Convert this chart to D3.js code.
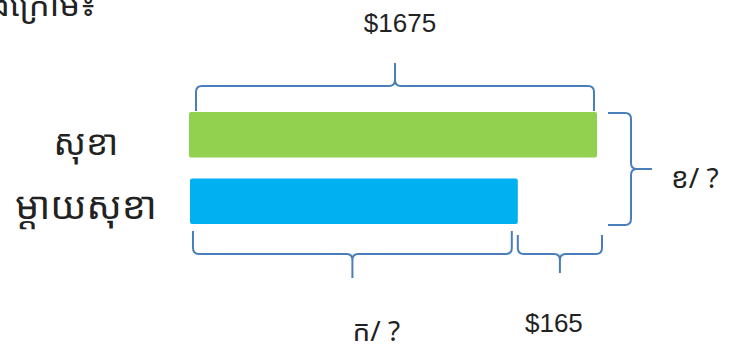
<!DOCTYPE html>
<html>
<head>
<meta charset="utf-8">
<script src="https://cdn.jsdelivr.net/npm/d3@7"></script>
<style>
  body { margin: 0; background: #fff; }
  svg { display: block; }
  .num { font-family: "Liberation Sans", Arial, sans-serif; font-size: 26px; fill: #222; }
  .kh { font-family: "Noto Sans Khmer", "Khmer OS", "Noto Sans", sans-serif; fill: #222; }
</style>
</head>
<body>
<svg></svg>
<script>
// bar model data
var people = ["សុខា", "ម្ដាយសុខា"];
var amounts = [1675, 1510];       // sokha, mother (1675 - 165)
var difference = 165;
var barColors = ["#92D050", "#00B0F0"];
var topLabel = "$1675";
var diffLabel = "$165";
var motherLabel = "ក/ ?";
var totalLabel = "ខ/ ?";
var headerText = "ដូចខាងក្រោម៖";

var width = 739, height = 349;
var braceColor = "#4A7EBB";

var svg = d3.select("svg")
    .attr("width", width)
    .attr("height", height);

// the diagram is not drawn to scale, so the domain does not start at 0
var x = d3.scaleLinear()
    .domain([825, amounts[0]])
    .range([189, 597]);
var y = d3.scaleBand()
    .domain(people)
    .range([112, 224])
    .paddingInner(0.316);

// header, cut off by the edges like in the picture
svg.append("text")
    .attr("class", "kh")
    .attr("x", 96)
    .attr("y", 16)
    .attr("text-anchor", "end")
    .style("font-size", "33px")
    .text(headerText);

// bars
svg.append("g")
    .selectAll("rect")
    .data(people)
    .enter().append("rect")
    .attr("x", function(d, i) { return x.range()[0] + i; })
    .attr("y", function(d) { return y(d); })
    .attr("width", function(d, i) { return x(amounts[i]) - x.range()[0] - i; })
    .attr("height", y.bandwidth())
    .attr("rx", 2)
    .style("fill", function(d, i) { return barColors[i]; });

// names at the left
svg.append("g")
    .selectAll("text")
    .data(people)
    .enter().append("text")
    .attr("class", "kh")
    .attr("x", 86)
    .attr("y", function(d, i) { return y(d) + y.bandwidth() / 2 + (i == 0 ? 20 : 18); })
    .attr("text-anchor", "middle")
    .style("font-size", function(d, i) { return i == 0 ? "35px" : "38px"; })
    .text(function(d) { return d; });

// brace in local coords: u along, v towards the tip
function bracePath(len, h, t, r) {
    var m = len / 2;
    return "M0,0 L0," + (h - r) + " Q0," + h + " " + r + "," + h +
        " L" + (m - r) + "," + h + " Q" + m + "," + h + " " + m + "," + (h + r) +
        " L" + m + "," + (h + t) +
        " M" + m + "," + (h + r) + " Q" + m + "," + h + " " + (m + r) + "," + h +
        " L" + (len - r) + "," + h + " Q" + len + "," + h + " " + len + "," + (h - r) +
        " L" + len + ",0";
}

function drawBrace(transform, len, h, t) {
    svg.append("path")
        .attr("d", bracePath(len, h, t, 6))
        .attr("transform", transform)
        .style("fill", "none")
        .style("stroke", braceColor)
        .style("stroke-width", 2);
}

// top brace over sokha's bar
var tx0 = x.range()[0] + 7, tx1 = x(amounts[0]) - 3;
drawBrace("translate(" + tx0 + "," + (y(people[0]) - 1) + ") scale(1,-1)", tx1 - tx0, 25, 23);
svg.append("text").attr("class", "num")
    .attr("x", (tx0 + tx1) / 2 + 5).attr("y", 32)
    .attr("text-anchor", "middle").text(topLabel);

// bottom braces under mother's bar
var by = y(people[1]) + y.bandwidth();
var mx0 = x.range()[0] + 4, mx1 = x(amounts[1]) - 6;
drawBrace("translate(" + mx0 + "," + (by + 7) + ")", mx1 - mx0, 23, 24);
svg.append("text").attr("class", "kh")
    .attr("x", (mx0 + mx1) / 2 + 24).attr("y", 341)
    .attr("text-anchor", "middle").style("font-size", "28px").text(motherLabel);

var dx0 = x(amounts[1]), dx1 = x(amounts[1] + difference) + 5;
drawBrace("translate(" + dx0 + "," + (by + 11) + ")", dx1 - dx0, 19, 19);
svg.append("text").attr("class", "num")
    .attr("x", (dx0 + dx1) / 2 - 6).attr("y", 332)
    .attr("text-anchor", "middle").text(diffLabel);

// right brace around both bars
var ry0 = y(people[0]) + 1, ry1 = by + 1;
drawBrace("translate(608," + ry0 + ") rotate(-90) scale(-1,1)", ry1 - ry0, 23, 21);
svg.append("text").attr("class", "kh")
    .attr("x", 671).attr("y", 188)
    .style("font-size", "28px").text(totalLabel);
</script>
</body>
</html>
